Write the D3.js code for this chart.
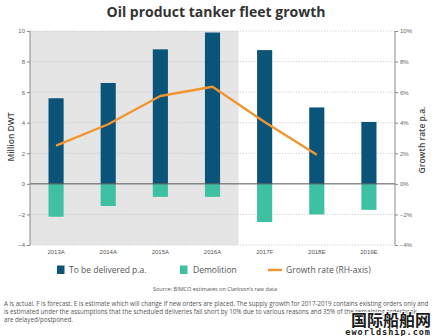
<!DOCTYPE html>
<html>
<head>
<meta charset="utf-8">
<script src="https://cdn.jsdelivr.net/npm/d3@7"></script>
<style>
    body { margin: 0; background: #fff; }
    svg { display: block; font-family: 'Open Sans', sans-serif; }
</style>
</head>
<body>
<div id="chart"></div>
<script>
//Datos
const years = ['2013A', '2014A', '2015A', '2016A', '2017F', '2018E', '2019E'];
const delivered = [5.6, 6.6, 8.8, 9.9, 8.75, 5.0, 4.05];
const demolition = [-2.15, -1.45, -0.85, -0.85, -2.5, -2.0, -1.7];
const growthYears = ['2013A', '2014A', '2015A', '2016A', '2017F', '2018E'];
const growth = [0.025, 0.039, 0.0575, 0.0635, 0.0405, 0.019];
const leftTicks = [-4, -2, 0, 2, 4, 6, 8, 10];
const rightTicks = [-0.04, -0.02, 0, 0.02, 0.04, 0.06, 0.08, 0.10];
const actualYears = ['2013A', '2014A', '2015A', '2016A'];

const footnote = [
    'A is actual. F is forecast. E is estimate which will change if new orders are placed. The supply growth for 2017-2019 contains existing orders only and',
    'is estimated under the assumptions that the scheduled deliveries fall short by 10% due to various reasons and 35% of the remaining orderbook',
    'are delayed/postponed.'
];

//Colores
const COLOR_DELIVERED = '#0b5479',
COLOR_DEMOLITION = '#3ec1a3',
COLOR_GROWTH = '#f2952f',
COLOR_TEXT = '#444';

const width = 436, height = 336;
const margin = {top: 31, right: 41, bottom: 91, left: 30};

let svg = d3.select('#chart')
    .append('svg')
        .attr('width', width)
        .attr('height', height);

let x = d3.scaleBand()
    .domain(years)
    .range([margin.left, width - margin.right])
    .paddingInner(0.71)
    .paddingOuter(0.355);

let y = d3.scaleLinear()
    .domain([-4, 10])
    .range([height - margin.bottom, margin.top]);

let yRight = d3.scaleLinear()
    .domain([-0.04, 0.10])
    .range([height - margin.bottom, margin.top]);

//Fondo gris para los años reales
let lastActual = actualYears[actualYears.length - 1];
let shadeEnd = x(lastActual) + x.bandwidth() + x.step() * x.paddingInner() / 2;
svg.append('rect')
    .attr('x', margin.left)
    .attr('y', y(10))
    .attr('width', shadeEnd - margin.left)
    .attr('height', y(-4) - y(10))
    .attr('fill', '#e5e5e5');

//Rejilla
svg.append('g')
    .selectAll('line')
    .data(leftTicks.filter(function(d) { return d != 0; }))
    .enter()
    .append('line')
    .attr('x1', margin.left)
    .attr('x2', width - margin.right)
    .attr('y1', function(d) { return y(d); })
    .attr('y2', function(d) { return y(d); })
    .attr('stroke', '#c4c4c4')
    .attr('stroke-width', 0.8)
    .attr('stroke-dasharray', '1.2,1.6');

//Barras
svg.append('g')
    .selectAll('rect')
    .data(years)
    .enter()
    .append('rect')
    .attr('x', function(d) { return x(d); })
    .attr('y', function(d, i) { return y(delivered[i]); })
    .attr('width', x.bandwidth())
    .attr('height', function(d, i) { return y(0) - y(delivered[i]); })
    .attr('fill', COLOR_DELIVERED);

svg.append('g')
    .selectAll('rect')
    .data(years)
    .enter()
    .append('rect')
    .attr('x', function(d) { return x(d); })
    .attr('y', y(0))
    .attr('width', x.bandwidth())
    .attr('height', function(d, i) { return y(demolition[i]) - y(0); })
    .attr('fill', COLOR_DEMOLITION);

//Línea cero
svg.append('line')
    .attr('x1', margin.left)
    .attr('x2', width - margin.right)
    .attr('y1', y(0))
    .attr('y2', y(0))
    .attr('stroke', '#555')
    .attr('stroke-width', 1);

//Línea de crecimiento
let line = d3.line()
    .x(function(d, i) { return x(growthYears[i]) + x.bandwidth() / 2; })
    .y(function(d) { return yRight(d); });

svg.append('path')
    .datum(growth)
    .attr('d', line)
    .attr('fill', 'none')
    .attr('stroke', COLOR_GROWTH)
    .attr('stroke-width', 2.4)
    .attr('stroke-linejoin', 'round');

//Ejes
let yAxis = function(g) {
    g.call(d3.axisLeft(y).tickValues(leftTicks).tickSize(3).tickPadding(2));
    g.call(function(g) { g.select('.domain').attr('stroke', '#8a8a8a').attr('d', 'M0,' + y(10) + 'V' + y(-4)); });
    g.call(function(g) { g.selectAll('.tick line').attr('stroke', '#8a8a8a'); });
    g.call(function(g) { g.selectAll('.tick text').attr('fill', '#666').style('font-size', '6px'); });
}

let yAxisRight = function(g) {
    g.call(d3.axisRight(yRight).tickValues(rightTicks).tickSize(3).tickPadding(2).tickFormat(d3.format('.0%')));
    g.call(function(g) { g.select('.domain').attr('stroke', '#8a8a8a').attr('d', 'M0,' + y(10) + 'V' + y(-4)); });
    g.call(function(g) { g.selectAll('.tick line').attr('stroke', '#8a8a8a'); });
    g.call(function(g) { g.selectAll('.tick text').attr('fill', '#666').style('font-size', '6px'); });
}

let xAxis = function(g) {
    g.call(d3.axisBottom(x).tickSize(0).tickPadding(5));
    g.call(function(g) { g.select('.domain').remove(); });
    g.call(function(g) { g.selectAll('.tick text').attr('fill', '#555').style('font-size', '6px'); });
}

svg.append('g')
    .attr('transform', 'translate(' + margin.left + ',0)')
    .call(yAxis);

svg.append('g')
    .attr('transform', 'translate(' + (width - margin.right) + ',0)')
    .call(yAxisRight);

svg.append('g')
    .attr('transform', 'translate(0,' + y(-4) + ')')
    .call(xAxis);

//Títulos
svg.append('text')
    .attr('x', 216)
    .attr('y', 17)
    .attr('text-anchor', 'middle')
    .attr('fill', '#333')
    .style('font-size', '14px')
    .style('font-weight', 700)
    .text('Oil product tanker fleet growth');

svg.append('text')
    .attr('transform', 'translate(14,' + 137 + ') rotate(-90)')
    .attr('text-anchor', 'middle')
    .attr('fill', COLOR_TEXT)
    .style('font-size', '8.5px')
    .style('font-weight', 600)
    .text('Million DWT');

svg.append('text')
    .attr('transform', 'translate(425,' + 140 + ') rotate(-90)')
    .attr('text-anchor', 'middle')
    .attr('fill', COLOR_TEXT)
    .style('font-size', '8.5px')
    .style('font-weight', 600)
    .text('Growth rate p.a.');

//Leyenda
let legend = svg.append('g').attr('transform', 'translate(0,270)');

legend.append('rect').attr('x', 57).attr('y', -4.5).attr('width', 7.5).attr('height', 8.5).attr('fill', COLOR_DELIVERED);
legend.append('text').attr('x', 69).attr('y', 3).attr('fill', '#555').style('font-size', '8.5px').text('To be delivered p.a.');

legend.append('rect').attr('x', 180).attr('y', -4.5).attr('width', 7.5).attr('height', 8.5).attr('fill', COLOR_DEMOLITION);
legend.append('text').attr('x', 193).attr('y', 3).attr('fill', '#555').style('font-size', '8.5px').text('Demolition');

legend.append('line').attr('x1', 268).attr('x2', 282).attr('y1', 0).attr('y2', 0).attr('stroke', COLOR_GROWTH).attr('stroke-width', 2.4);
legend.append('text').attr('x', 286).attr('y', 3).attr('fill', '#555').style('font-size', '8.5px').text('Growth rate (RH-axis)');

//Fuente y notas
svg.append('text')
    .attr('x', 215)
    .attr('y', 291)
    .attr('text-anchor', 'middle')
    .attr('fill', '#555')
    .style('font-size', '5.5px')
    .text('Source: BIMCO estimates on Clarkson\u2019s raw data');

svg.append('g')
    .selectAll('text')
    .data(footnote)
    .enter()
    .append('text')
    .attr('x', 4)
    .attr('y', function(d, i) { return 306 + i * 7.8; })
    .attr('fill', '#555')
    .style('font-size', '6.2px')
    .text(function(d) { return d; });

//Marca de agua
let mark = svg.append('g');
mark.append('text')
    .attr('x', 431)
    .attr('y', 326)
    .attr('text-anchor', 'end')
    .attr('fill', '#1b1b1b')
    .attr('stroke', '#fff')
    .attr('stroke-width', 2)
    .attr('paint-order', 'stroke')
    .style('font-family', "'Noto Sans CJK SC', sans-serif")
    .style('font-size', '16px')
    .style('font-weight', 700)
    .text('国际船舶网');

mark.append('text')
    .attr('x', 431)
    .attr('y', 334.5)
    .attr('text-anchor', 'end')
    .attr('fill', '#1b1b1b')
    .style('font-family', "'DejaVu Sans Mono', monospace")
    .style('font-size', '8.5px')
    .style('font-weight', 700)
    .style('letter-spacing', '1px')
    .text('eworldship.com');
</script>
</body>
</html>
